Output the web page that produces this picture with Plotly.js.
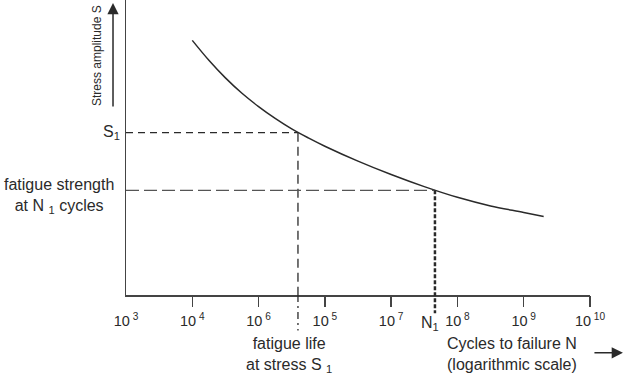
<!DOCTYPE html>
<html>
<head>
<meta charset="utf-8">
<script src="https://cdn.plot.ly/plotly-3.0.1.min.js"></script>
<style>html,body{margin:0;padding:0;background:#fff;}#chart{width:625px;height:376px;}</style>
</head>
<body>
<div id="chart"></div>
<script>
// S-N curve (stress in arbitrary units)
var cycles = [1.0e4, 1.78e4, 3.16e4, 5.62e4, 1.0e5, 1.78e5, 3.16e5, 5.62e5, 1.0e6, 3.16e6, 1.0e7, 3.16e7, 1.0e8, 3.16e8, 1.0e9, 2.0e9];
var stress = [254.6, 234.7, 217.1, 201.7, 188.4, 176.6, 166.1, 157.1, 148.8, 133.9, 120.5, 108.4, 97.7, 89.1, 82.6, 78.5];

var stressS1 = 162.3;      // S1
var lifeAtS1 = 3.93e5;     // fatigue life at S1
var cyclesN1 = 4.58e7;     // N1
var strengthN1 = 104.7;    // fatigue strength at N1

var tickVals = [1e3, 1e4, 1e5, 1e6, 1e7, 1e8, 1e9, 1e10];
var tickText = ['10<sup> 3</sup>', '10<sup> 4</sup>', '10<sup> 6</sup>', '10<sup> 5</sup>', '10<sup> 7</sup>', '10<sup> 8</sup>', '10<sup> 9</sup>', '10<sup> 10</sup>'];
var markedTicks = [1e4, 1e5, 1e6, 1e7, 1e8, 1e9, 1e10];

var yMax = 295;
var ink = '#2a2a2a';
var axisInk = '#444';
var fam = 'Liberation Sans, Arial, sans-serif';

var traces = [
  {x: cycles, y: stress, type: 'scatter', mode: 'lines', line: {color: ink, width: 1.5, shape: 'spline', smoothing: 1}, hoverinfo: 'skip'},
  {x: [1e3], y: [0], xaxis: 'x2', type: 'scatter', mode: 'markers', marker: {opacity: 0}, hoverinfo: 'skip'}
];

var layout = {
  width: 625, height: 376,
  margin: {l: 126, r: 35, t: 0, b: 81},
  paper_bgcolor: '#fff', plot_bgcolor: '#fff',
  showlegend: false,
  font: {family: fam, color: ink, size: 16},
  xaxis: {
    type: 'log', range: [3, 10], showgrid: false, zeroline: false,
    showline: true, linecolor: axisInk, linewidth: 1.5,
    tickvals: tickVals, ticktext: tickText, ticks: '',
    ticklabelstandoff: 12,
    tickfont: {family: fam, size: 14.5, color: ink}
  },
  xaxis2: {
    type: 'log', range: [3, 10], overlaying: 'x', anchor: 'y', side: 'bottom',
    showgrid: false, zeroline: false, showline: false,
    tickvals: markedTicks, ticks: 'outside', ticklen: 11, tickwidth: 1.5, tickcolor: axisInk,
    showticklabels: false
  },
  yaxis: {
    range: [0, yMax], showgrid: false, zeroline: false,
    showline: true, linecolor: axisInk, linewidth: 1.5,
    ticks: '', showticklabels: false
  },
  shapes: [
    {type: 'line', xref: 'x', yref: 'y', x0: 1e3, x1: lifeAtS1, y0: stressS1, y1: stressS1,
     line: {color: ink, width: 1.3, dash: '7px,5px'}},
    {type: 'line', xref: 'x', yref: 'y', x0: lifeAtS1, x1: lifeAtS1, y0: stressS1, y1: 0,
     line: {color: ink, width: 1.3, dash: '9px,5px'}},
    {type: 'line', xref: 'x', yref: 'paper', x0: lifeAtS1, x1: lifeAtS1, y0: 0, y1: -0.12,
     line: {color: ink, width: 1.3, dash: '7px,4px,2px,4px'}},
    {type: 'line', xref: 'x', yref: 'y', x0: 1e3, x1: cyclesN1, y0: strengthN1, y1: strengthN1,
     line: {color: '#555', width: 1.3, dash: '13px,5px'}},
    {type: 'line', xref: 'x', yref: 'paper', x0: cyclesN1, x1: cyclesN1, y0: strengthN1 / yMax, y1: -0.062,
     line: {color: ink, width: 2.5, dash: '4px,2px'}}
  ],
  annotations: [
    {text: 'S<sub>1</sub>', xref: 'paper', x: 0, xanchor: 'right', xshift: -4,
     yref: 'y', y: stressS1, yanchor: 'middle', showarrow: false, font: {size: 16}},
    {text: 'fatigue strength<br>at N <sub>1</sub> cycles', xref: 'paper', x: -0.145, xanchor: 'center',
     yref: 'y', y: strengthN1, yanchor: 'middle', yshift: -6, align: 'center', showarrow: false, font: {size: 16}},
    {text: 'Stress amplitude S', textangle: -90, xref: 'paper', x: -0.0625, yref: 'paper', y: 0.81,
     xanchor: 'center', yanchor: 'middle', showarrow: false,
     font: {family: fam, size: 12}},
    {text: '', xref: 'paper', x: -0.028, yref: 'paper', y: 0.99, ax: 0, ay: 105,
     showarrow: true, arrowhead: 2, arrowsize: 1.5, arrowwidth: 1.5, arrowcolor: ink, standoff: 0},
    {text: 'fatigue life<br>at stress S <sub>1</sub>', xref: 'paper', x: 0.3513, yref: 'paper', y: -0.205,
     xanchor: 'center', yanchor: 'middle', align: 'center', showarrow: false, font: {size: 16}},
    {text: 'Cycles to failure N<br>(logarithmic scale)', xref: 'paper', x: 0.832, yref: 'paper', y: -0.2,
     xanchor: 'center', yanchor: 'middle', align: 'center', showarrow: false, font: {size: 16}},
    {text: '', xref: 'paper', x: 1.071, yref: 'paper', y: -0.196, ax: -30, ay: 0,
     showarrow: true, arrowhead: 2, arrowsize: 1.5, arrowwidth: 1.5, arrowcolor: ink, standoff: 0},
    {text: 'N<sub>1</sub>', xref: 'x', x: Math.log10(cyclesN1), xshift: -5, yref: 'paper', y: -0.098,
     xanchor: 'center', yanchor: 'middle', showarrow: false, font: {size: 16}}
  ]
};

Plotly.newPlot('chart', traces, layout, {displayModeBar: false, staticPlot: true});
</script>
</body>
</html>
